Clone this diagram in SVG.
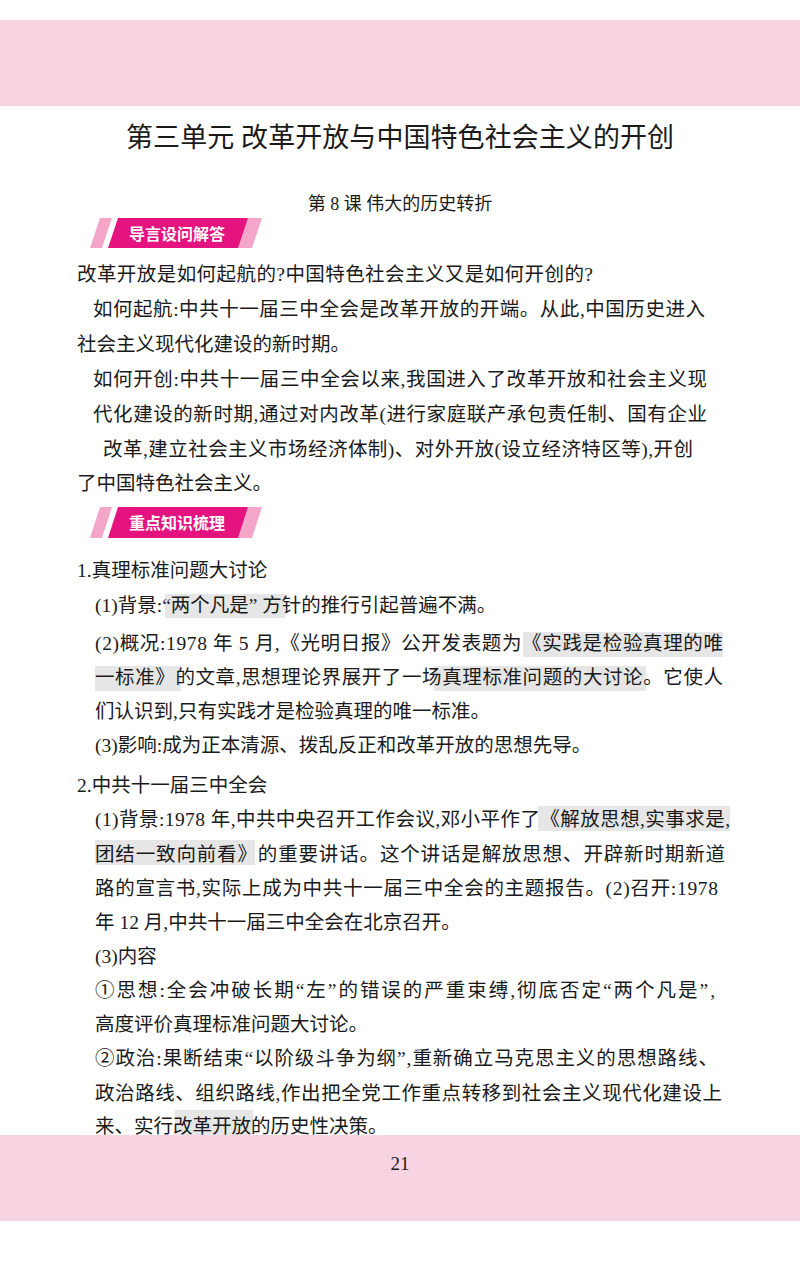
<svg xmlns="http://www.w3.org/2000/svg" width="800" height="1279" viewBox="0 0 800 1279">
<style>
text{font-family:"Liberation Serif","Noto Sans CJK SC",sans-serif;fill:#1a1a1a}
.b{font-size:19.5px}
.hl{fill:#e6e6e6}
.badge{font-size:16px;fill:#fff;font-weight:bold;font-family:"Noto Sans CJK SC",serif}
</style>
<rect width="800" height="1279" fill="#fff"/>
<rect x="0" y="20" width="800" height="86" fill="#f8d4e3"/>
<rect x="0" y="1135" width="800" height="86" fill="#f8d4e3"/>
<text x="400" y="147" font-size="27" text-anchor="middle" textLength="548">第三单元 改革开放与中国特色社会主义的开创</text>
<text x="400" y="210" font-size="18" text-anchor="middle">第 8 课 伟大的历史转折</text>
<g id="badge1">
<polygon points="100,218 112,218 102,248 90,248" fill="#f3a6c8"/>
<polygon points="118,218 250,218 240,248 108,248" fill="#e5137f"/>
<polygon points="248,218 262,218 252,248 238,248" fill="#f3a6c8"/>
<text x="177" y="240" class="badge" text-anchor="middle">导言设问解答</text>
</g>
<g id="badge2">
<polygon points="100,507 112,507 102,538 90,538" fill="#f3a6c8"/>
<polygon points="118,507 250,507 240,538 108,538" fill="#e5137f"/>
<polygon points="248,507 262,507 252,538 238,538" fill="#f3a6c8"/>
<text x="177" y="529" class="badge" text-anchor="middle">重点知识梳理</text>
</g>
<g class="b">
<text x="77" y="281" textLength="516">改革开放是如何起航的?中国特色社会主义又是如何开创的?</text>
<text x="93" y="316" textLength="612">如何起航:中共十一届三中全会是改革开放的开端。从此,中国历史进入</text>
<text x="77" y="351">社会主义现代化建设的新时期。</text>
<text x="93" y="386" textLength="614">如何开创:中共十一届三中全会以来,我国进入了改革开放和社会主义现</text>
<text x="93" y="421" textLength="614">代化建设的新时期,通过对内改革(进行家庭联产承包责任制、国有企业</text>
<text x="103" y="456" textLength="590">改革,建立社会主义市场经济体制)、对外开放(设立经济特区等),开创</text>
<text x="77" y="490">了中国特色社会主义。</text>
</g>
<g id="highlights">
<rect class="hl" x="165" y="594" width="120" height="24"/>
<rect class="hl" x="523" y="632" width="200" height="25"/>
<rect class="hl" x="95" y="666" width="86" height="25"/>
<rect class="hl" x="434" y="666" width="212" height="25"/>
<rect class="hl" x="538" y="806" width="192" height="25"/>
<rect class="hl" x="95" y="840" width="160" height="25"/>
<rect class="hl" x="175" y="1110" width="78" height="25"/>
</g>
<g class="b">
<text x="77" y="577">1.真理标准问题大讨论</text>
<text x="95" y="612">(1)背景:“两个凡是” 方针的推行引起普遍不满。</text>
<text x="95" y="650" textLength="628">(2)概况:1978 年 5 月,《光明日报》公开发表题为《实践是检验真理的唯</text>
<text x="95" y="684" textLength="628">一标准》的文章,思想理论界展开了一场真理标准问题的大讨论。它使人</text>
<text x="95" y="718">们认识到,只有实践才是检验真理的唯一标准。</text>
<text x="95" y="752">(3)影响:成为正本清源、拨乱反正和改革开放的思想先导。</text>
<text x="77" y="792">2.中共十一届三中全会</text>
<text x="95" y="826" textLength="635">(1)背景:1978 年,中共中央召开工作会议,邓小平作了《解放思想,实事求是,</text>
<text x="95" y="861" textLength="630">团结一致向前看》的重要讲话。这个讲话是解放思想、开辟新时期新道</text>
<text x="95" y="895" textLength="623">路的宣言书,实际上成为中共十一届三中全会的主题报告。(2)召开:1978</text>
<text x="95" y="929">年 12 月,中共十一届三中全会在北京召开。</text>
<text x="95" y="963">(3)内容</text>
<text x="95" y="997" textLength="620">①思想:全会冲破长期“左”的错误的严重束缚,彻底否定“两个凡是”,</text>
<text x="95" y="1031">高度评价真理标准问题大讨论。</text>
<text x="95" y="1065" textLength="623">②政治:果断结束“以阶级斗争为纲”,重新确立马克思主义的思想路线、</text>
<text x="95" y="1100" textLength="627">政治路线、组织路线,作出把全党工作重点转移到社会主义现代化建设上</text>
<text x="95" y="1133">来、实行改革开放的历史性决策。</text>
</g>
<text x="400" y="1170" font-size="19" text-anchor="middle">21</text>
</svg>
